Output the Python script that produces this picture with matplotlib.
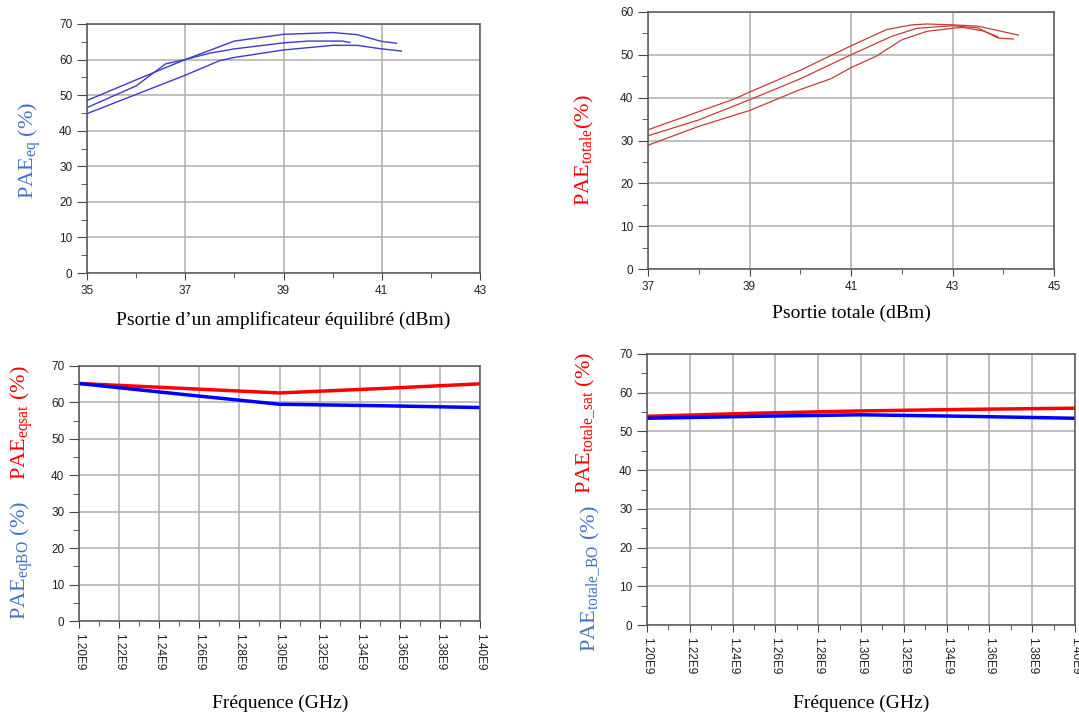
import numpy as np
import matplotlib
matplotlib.use('Agg')
import matplotlib.pyplot as plt
from matplotlib.ticker import MultipleLocator, FixedLocator

plt.rcParams['font.family'] = 'Liberation Sans'
plt.rcParams['mathtext.fontset'] = 'custom'
plt.rcParams['mathtext.rm'] = 'Liberation Serif'
plt.rcParams['mathtext.it'] = 'Liberation Serif'

# --- données ---
# PAE amplificateur équilibré (3 courbes)
pin_eq_1 = [35, 36, 37, 38, 39, 40, 40.5, 41, 41.3]
pae_eq_1 = [48.5, 54.3, 60.0, 65.2, 67.1, 67.6, 67.0, 65.1, 64.6]
pin_eq_2 = [35, 36, 36.6, 37, 37.5, 38, 39, 39.5, 40.2, 40.35]
pae_eq_2 = [46.5, 52.6, 58.8, 60.0, 61.8, 63.0, 64.7, 65.2, 65.2, 64.8]
pin_eq_3 = [35, 36, 37, 37.7, 38, 39, 40, 40.5, 41, 41.4]
pae_eq_3 = [44.8, 50.2, 55.6, 59.7, 60.6, 62.7, 64.0, 64.0, 63.0, 62.4]

# PAE totale (3 courbes)
pin_tot_1 = [37, 38.7, 39, 40, 41, 41.7, 42.2, 42.5, 43, 43.5, 44.3]
pae_tot_1 = [32.5, 39.7, 41.3, 46.4, 52.1, 55.9, 57.0, 57.2, 57.0, 56.7, 54.6]
pin_tot_2 = [37, 38, 39, 40, 41, 41.8, 42.3, 43, 43.5, 43.9, 44.2]
pae_tot_2 = [31.1, 34.8, 39.5, 44.4, 50.0, 54.3, 56.2, 56.8, 56.3, 53.9, 53.7]
pin_tot_3 = [37, 38, 39, 40, 40.6, 41, 41.5, 42, 42.5, 43, 43.2, 43.6, 43.9]
pae_tot_3 = [28.9, 33.3, 37.0, 41.9, 44.4, 47.0, 49.7, 53.5, 55.5, 56.2, 56.4, 55.6, 54.2]

# PAE en fonction de la fréquence
freq = [1.20e9, 1.25e9, 1.30e9, 1.35e9, 1.40e9]
pae_eqsat = [65.2, 63.9, 62.6, 63.8, 65.1]
pae_eqbo = [65.2, 62.3, 59.5, 59.1, 58.6]
pae_tot_sat = [53.9, 54.7, 55.3, 55.7, 56.0]
pae_tot_bo = [53.4, 53.9, 54.3, 53.9, 53.4]

ticks_eq = [35, 37, 39, 41, 43]
ticks_tot = [37, 39, 41, 43, 45]
freq_ticks = [1.20e9, 1.22e9, 1.24e9, 1.26e9, 1.28e9, 1.30e9,
              1.32e9, 1.34e9, 1.36e9, 1.38e9, 1.40e9]
freq_labels = ['1.20E9', '1.22E9', '1.24E9', '1.26E9', '1.28E9', '1.30E9',
               '1.32E9', '1.34E9', '1.36E9', '1.38E9', '1.40E9']

BLEU_LABEL = '#4472c4'
ROUGE_LABEL = '#ff0000'
SERIF = 'Liberation Serif'


def style_axes(ax):
    for s in ax.spines.values():
        s.set_color('#555555')
        s.set_linewidth(1.1)
    ax.grid(True, which='major', color='#b4b4b4', linewidth=1.2)
    ax.set_axisbelow(True)
    ax.tick_params(axis='both', which='both', direction='out', colors='#444444',
                   labelcolor='#222222', labelsize=8.5)
    ax.tick_params(axis='y', which='major', length=7)
    ax.tick_params(axis='y', which='minor', length=4.5)
    ax.tick_params(axis='x', which='major', length=5)
    ax.tick_params(axis='x', which='minor', length=3.5)


fig = plt.figure(figsize=(10.79, 7.15), dpi=100)
W, H = 1079, 715


def add_ax(left, right, top, bottom):
    return fig.add_axes([left / W, 1 - bottom / H, (right - left) / W, (bottom - top) / H])


# --- haut gauche ---
ax1 = add_ax(87, 480, 24, 273)
for x, y in [(pin_eq_1, pae_eq_1), (pin_eq_2, pae_eq_2), (pin_eq_3, pae_eq_3)]:
    ax1.plot(x, y, color='#3b3bcc', linewidth=1.0)
ax1.set_xlim(35, 43)
ax1.set_ylim(0, 70)
ax1.set_xticks(ticks_eq)
ax1.set_xticks(np.arange(36, 43, 2), minor=True)
ax1.yaxis.set_major_locator(MultipleLocator(10))
ax1.yaxis.set_minor_locator(MultipleLocator(5))
style_axes(ax1)
fig.text(283 / W, 1 - 320 / H, 'Psortie d’un amplificateur équilibré (dBm)',
         family=SERIF, fontsize=14, ha='center', va='center')
fig.text(30 / W, 1 - 150 / H, r'PAE$_{\mathrm{eq}}$ (%)', family=SERIF, fontsize=16,
         color=BLEU_LABEL, rotation=90, ha='center', va='center')

# --- haut droite ---
ax2 = add_ax(648, 1054, 12, 269)
for x, y in [(pin_tot_1, pae_tot_1), (pin_tot_2, pae_tot_2), (pin_tot_3, pae_tot_3)]:
    ax2.plot(x, y, color='#c83a3a', linewidth=0.9)
ax2.set_xlim(37, 45)
ax2.set_ylim(0, 60)
ax2.set_xticks(ticks_tot)
ax2.set_xticks(np.arange(38, 45, 2), minor=True)
ax2.yaxis.set_major_locator(MultipleLocator(10))
ax2.yaxis.set_minor_locator(MultipleLocator(5))
style_axes(ax2)
fig.text(851 / W, 1 - 313 / H, 'Psortie totale (dBm)',
         family=SERIF, fontsize=14, ha='center', va='center')
fig.text(584 / W, 1 - 150 / H, r'PAE$_{\mathrm{totale}}$(%)', family=SERIF, fontsize=16,
         color=ROUGE_LABEL, rotation=90, ha='center', va='center')

# --- bas gauche ---
ax3 = add_ax(79, 480, 366, 621)
ax3.plot(freq, pae_eqsat, color='#ff0000', linewidth=2.5)
ax3.plot(freq, pae_eqbo, color='#0000ff', linewidth=2.5)
ax3.set_xlim(1.20e9, 1.40e9)
ax3.set_ylim(0, 70)

# --- bas droite ---
ax4 = add_ax(647, 1075, 354, 625)
ax4.plot(freq, pae_tot_sat, color='#ff0000', linewidth=2.5)
ax4.plot(freq, pae_tot_bo, color='#0000ff', linewidth=2.5)
ax4.set_xlim(1.20e9, 1.40e9)
ax4.set_ylim(0, 70)

for ax in (ax3, ax4):
    ax.xaxis.set_major_locator(FixedLocator(freq_ticks))
    ax.set_xticklabels(freq_labels, rotation=-90)
    ax.xaxis.set_minor_locator(MultipleLocator(0.01e9))
    ax.yaxis.set_major_locator(MultipleLocator(10))
    ax.yaxis.set_minor_locator(MultipleLocator(5))
    style_axes(ax)

fig.text(280 / W, 1 - 703 / H, 'Fréquence (GHz)', family=SERIF, fontsize=14,
         ha='center', va='center')
fig.text(861 / W, 1 - 703 / H, 'Fréquence (GHz)', family=SERIF, fontsize=14,
         ha='center', va='center')
fig.text(22 / W, 1 - 423 / H, r'PAE$_{\mathrm{eqsat}}$ (%)', family=SERIF, fontsize=16,
         color=ROUGE_LABEL, rotation=90, ha='center', va='center')
fig.text(22 / W, 1 - 560 / H, r'PAE$_{\mathrm{eqBO}}$ (%)', family=SERIF, fontsize=16,
         color=BLEU_LABEL, rotation=90, ha='center', va='center')
fig.text(585 / W, 1 - 423 / H, r'PAE$_{\mathrm{totale\_sat}}$ (%)', family=SERIF, fontsize=16,
         color=ROUGE_LABEL, rotation=90, ha='center', va='center')
fig.text(590 / W, 1 - 579 / H, r'PAE$_{\mathrm{totale\_BO}}$ (%)', family=SERIF, fontsize=16,
         color=BLEU_LABEL, rotation=90, ha='center', va='center')

fig.savefig('out.png', dpi=100)
